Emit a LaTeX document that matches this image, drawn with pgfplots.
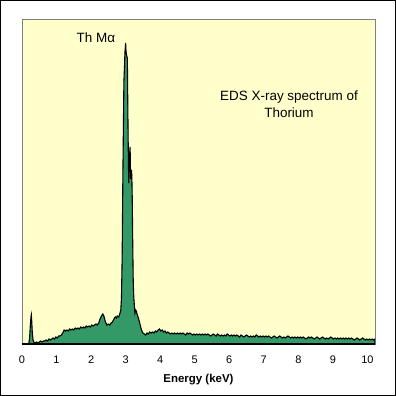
\documentclass[border=0pt]{standalone}
\usepackage{fontspec}
\setmainfont{Liberation Sans}
\usepackage{pgfplots}
\pgfplotsset{compat=1.18}
\definecolor{bgyellow}{RGB}{255,255,204}
\definecolor{specgreen}{RGB}{51,153,102}
\begin{document}
\begin{tikzpicture}[x=1bp,y=1bp]
\useasboundingbox (0,0) rectangle (396,396);
\fill[white] (0,0) rectangle (396,396);
\begin{axis}[
  at={(22bp,52bp)}, anchor=south west,
  scale only axis, width=353bp, height=324bp,
  xmin=0, xmax=10.22, ymin=0, ymax=324,
  axis background/.style={fill=bgyellow},
  axis line style={draw=gray, line width=1bp},
  xtick={0,1,...,10}, ytick=\empty,
  major tick length=0pt,
  /pgf/number format/assume math mode=true,
  tick label style={font=\fontsize{11}{13}\selectfont},
  xticklabel style={yshift=-8.5bp},
  xlabel={\textbf{Energy (keV)}},
  xlabel style={font=\fontsize{11.5}{13}\selectfont, at={(axis description cs:0.5,0)}, anchor=center, yshift=-36bp},
  clip=true,
]
\addplot[fill=specgreen, draw=black, line width=1.1bp] table {
x y
0.00 0
0.16 0
0.20 1
0.22 6
0.24 18
0.26 27
0.27 29
0.28 24
0.30 10
0.32 4
0.34 2
0.38 1
0.42 2
0.46 1
0.50 2
0.54 3
0.58 2
0.62 3
0.66 3
0.70 4
0.74 3
0.78 5
0.82 4
0.86 5
0.90 6
0.94 5
0.98 7
1.02 6
1.06 8
1.10 8
1.14 9
1.18 11
1.22 14
1.26 13
1.30 14
1.34 13
1.38 15
1.42 14
1.46 15
1.50 14
1.54 16
1.58 15
1.62 16
1.66 15
1.70 17
1.74 16
1.78 17
1.82 16
1.86 18
1.90 17
1.94 18
1.98 17
2.02 19
2.06 18
2.10 19
2.14 20
2.18 19
2.22 21
2.26 25
2.30 28
2.34 30
2.37 28
2.40 24
2.43 21
2.46 19
2.50 20
2.54 19
2.58 21
2.62 22
2.66 25
2.70 27
2.73 26
2.76 28
2.80 27
2.83 30
2.86 34
2.88 46
2.90 87
2.92 167
2.94 230
2.95 262
2.97 280
2.98 292
2.99 296
3.00 301
3.01 294
3.02 290
3.04 287
3.05 286
3.06 250
3.07 216
3.08 185
3.09 161
3.10 170
3.11 180
3.12 192
3.13 197
3.14 175
3.15 165
3.16 170
3.17 174
3.18 168
3.19 150
3.20 119
3.21 90
3.22 64
3.23 52
3.24 45
3.26 35
3.27 31
3.29 34
3.31 33
3.33 30
3.35 28
3.37 26
3.40 22
3.43 18
3.46 14
3.50 11
3.54 10
3.58 9
3.62 11
3.66 10
3.70 12
3.74 11
3.78 12
3.82 11
3.86 13
3.90 12
3.94 14
3.98 15
4.02 13
4.06 14
4.10 12
4.14 13
4.18 11
4.22 12
4.26 11
4.30 10
4.34 11
4.38 10
4.42 11
4.46 10
4.50 11
4.54 10
4.58 11
4.62 10
4.66 11
4.70 10
4.74 9
4.78 11
4.82 10
4.86 11
4.90 10
4.94 9
4.98 10
5.02 9
5.06 10
5.10 9
5.14 10
5.18 9
5.22 10
5.26 9
5.30 10
5.34 9
5.38 10
5.42 9
5.46 8
5.50 9
5.54 10
5.58 9
5.62 8
5.66 10
5.70 9
5.74 8
5.78 9
5.82 8
5.86 9
5.90 8
5.94 10
5.98 9
6.02 8
6.06 9
6.10 8
6.14 9
6.18 8
6.22 9
6.26 8
6.30 7
6.34 9
6.38 8
6.42 7
6.46 8
6.50 9
6.54 8
6.58 7
6.62 8
6.66 7
6.70 8
6.74 7
6.78 9
6.82 8
6.86 7
6.90 8
6.94 7
6.98 8
7.02 7
7.06 8
7.10 7
7.14 8
7.18 7
7.22 6
7.26 7
7.30 8
7.34 7
7.38 6
7.42 7
7.46 8
7.50 7
7.54 6
7.58 7
7.62 6
7.66 7
7.70 8
7.74 7
7.78 6
7.82 7
7.86 6
7.90 7
7.94 6
7.98 7
8.02 6
8.06 7
8.10 6
8.14 7
8.18 6
8.22 5
8.26 6
8.30 7
8.34 6
8.38 7
8.42 6
8.46 5
8.50 6
8.54 7
8.58 6
8.62 5
8.66 6
8.70 7
8.74 6
8.78 5
8.82 6
8.86 5
8.90 6
8.94 7
8.98 6
9.02 5
9.06 6
9.10 5
9.14 6
9.18 5
9.22 6
9.26 5
9.30 6
9.34 5
9.38 6
9.42 5
9.46 6
9.50 5
9.54 6
9.58 5
9.62 4
9.66 5
9.70 6
9.74 5
9.78 4
9.82 5
9.86 6
9.90 5
9.94 4
9.98 5
10.02 4
10.06 5
10.10 4
10.14 5
10.18 4
10.22 5
} \closedcycle;
\draw[black, line width=1.2bp] (rel axis cs:0,0) -- (rel axis cs:1,0);
\node[font=\fontsize{13.5}{15}\selectfont] at (axis cs:2.14,306) {Th Mα};
\node[font=\fontsize{13.5}{17}\selectfont, align=center] at (axis cs:7.73,239.5) {EDS X-ray spectrum of\\Thorium};
\end{axis}
\draw[black, line width=1.5bp] (0.75,0.75) rectangle (395.25,395.25);
\end{tikzpicture}
\end{document}
